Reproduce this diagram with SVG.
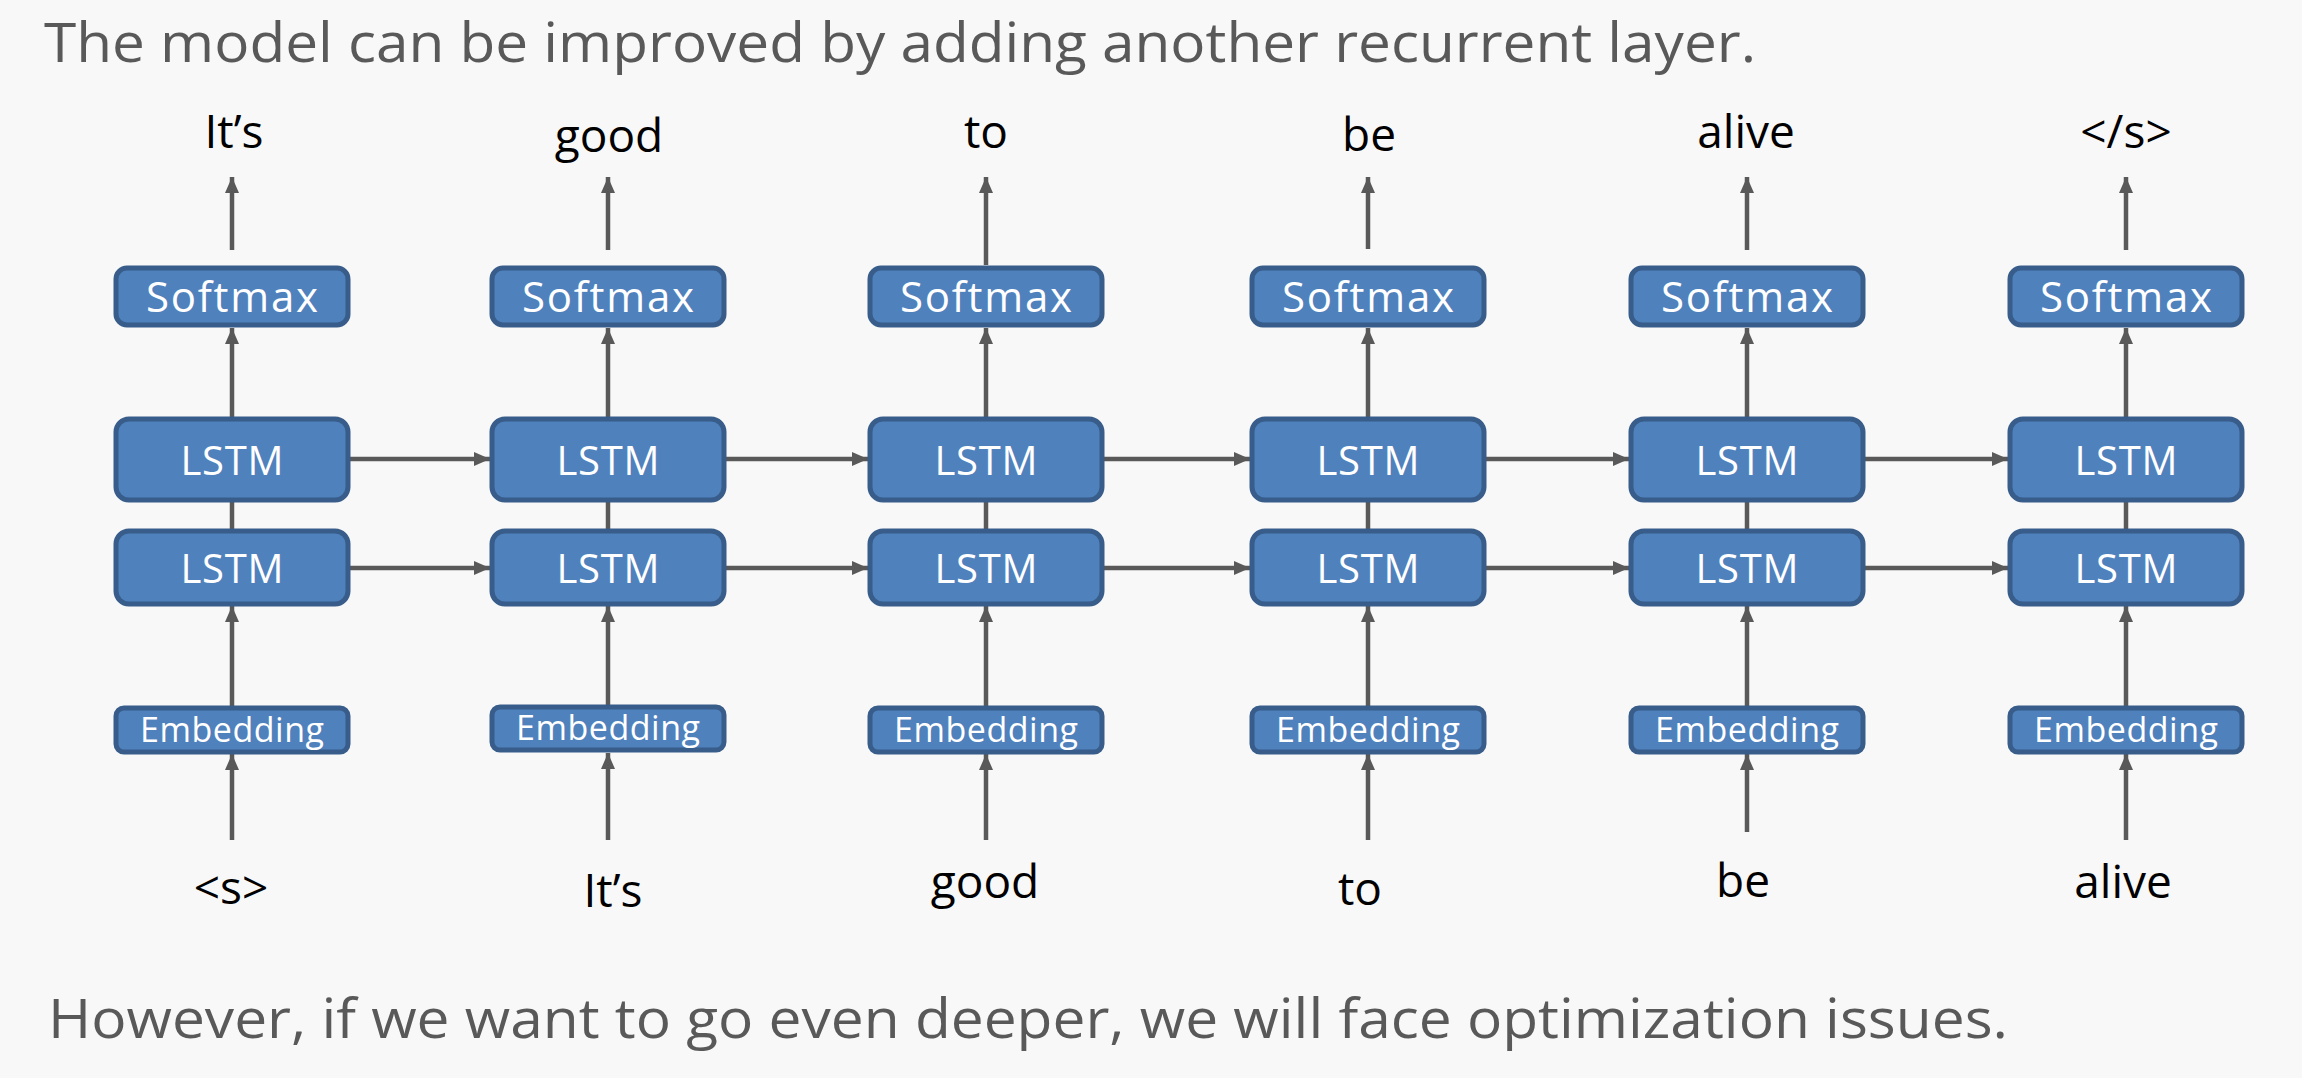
<svg xmlns="http://www.w3.org/2000/svg" width="2302" height="1078" viewBox="0 0 2302 1078">
<defs>
<style>
.bg{fill:#F8F8F8}
.box{fill:#4F81BD;stroke:#385D8A;stroke-width:5}
.bt{font-family:"Open Sans","Noto Sans",sans-serif;fill:#FFFFFF;text-anchor:middle}
.big{font-size:40px}
.sm{font-size:42px}
.emb{font-size:34px}
.lbl{font-family:"Open Sans","Noto Sans",sans-serif;font-size:46px;fill:#000000;text-anchor:middle}
.cap{font-family:"Open Sans","Noto Sans",sans-serif;font-size:55px;fill:#595959}
.c{stroke:#595959;stroke-width:4.5;fill:none}
.a{marker-end:url(#ah)}
</style>
<marker id="ah" markerUnits="userSpaceOnUse" markerWidth="16" markerHeight="16" viewBox="0 0 16 16" refX="16" refY="8" orient="auto">
<path d="M0,1 L16,8 L0,15 Z" fill="#595959"/>
</marker>
</defs>
<rect class="bg" x="0" y="0" width="2302" height="1078"/>
<text class="cap" x="44" y="62" textLength="1712" lengthAdjust="spacingAndGlyphs">The model can be improved by adding another recurrent layer.</text>
<text class="cap" x="48" y="1038" textLength="1960" lengthAdjust="spacingAndGlyphs">However, if we want to go even deeper, we will face optimization issues.</text>

<g id="connectors">
<line class="c a" x1="232" y1="250" x2="232" y2="177"/>
<line class="c a" x1="232" y1="417" x2="232" y2="328"/>
<line class="c" x1="232" y1="502" x2="232" y2="529"/>
<line class="c a" x1="232" y1="706" x2="232" y2="606"/>
<line class="c a" x1="232" y1="840" x2="232" y2="754"/>
<line class="c a" x1="608" y1="250" x2="608" y2="177"/>
<line class="c a" x1="608" y1="417" x2="608" y2="328"/>
<line class="c" x1="608" y1="502" x2="608" y2="529"/>
<line class="c a" x1="608" y1="706" x2="608" y2="606"/>
<line class="c a" x1="608" y1="840" x2="608" y2="753"/>
<line class="c a" x1="986" y1="265" x2="986" y2="177"/>
<line class="c a" x1="986" y1="417" x2="986" y2="328"/>
<line class="c" x1="986" y1="502" x2="986" y2="529"/>
<line class="c a" x1="986" y1="706" x2="986" y2="606"/>
<line class="c a" x1="986" y1="840" x2="986" y2="754"/>
<line class="c a" x1="1368" y1="249" x2="1368" y2="177"/>
<line class="c a" x1="1368" y1="417" x2="1368" y2="328"/>
<line class="c" x1="1368" y1="502" x2="1368" y2="529"/>
<line class="c a" x1="1368" y1="706" x2="1368" y2="606"/>
<line class="c a" x1="1368" y1="840" x2="1368" y2="754"/>
<line class="c a" x1="1747" y1="250" x2="1747" y2="177"/>
<line class="c a" x1="1747" y1="417" x2="1747" y2="328"/>
<line class="c" x1="1747" y1="502" x2="1747" y2="529"/>
<line class="c a" x1="1747" y1="706" x2="1747" y2="606"/>
<line class="c a" x1="1747" y1="832" x2="1747" y2="754"/>
<line class="c a" x1="2126" y1="250" x2="2126" y2="177"/>
<line class="c a" x1="2126" y1="417" x2="2126" y2="328"/>
<line class="c" x1="2126" y1="502" x2="2126" y2="529"/>
<line class="c a" x1="2126" y1="706" x2="2126" y2="606"/>
<line class="c a" x1="2126" y1="840" x2="2126" y2="754"/>
<line class="c a" x1="350" y1="459" x2="490" y2="459"/>
<line class="c a" x1="726" y1="459" x2="868" y2="459"/>
<line class="c a" x1="1104" y1="459" x2="1250" y2="459"/>
<line class="c a" x1="1486" y1="459" x2="1629" y2="459"/>
<line class="c a" x1="1865" y1="459" x2="2008" y2="459"/>
<line class="c a" x1="350" y1="568" x2="490" y2="568"/>
<line class="c a" x1="726" y1="568" x2="868" y2="568"/>
<line class="c a" x1="1104" y1="568" x2="1250" y2="568"/>
<line class="c a" x1="1486" y1="568" x2="1629" y2="568"/>
<line class="c a" x1="1865" y1="568" x2="2008" y2="568"/>
</g>

<g id="col1">
<g id="softmax1"><rect class="box" x="116" y="268" width="232" height="57" rx="11"/><text class="bt sm" x="232" y="312" textLength="172" lengthAdjust="spacing">Softmax</text></g>
<g id="lstm2_1"><rect class="box" x="116" y="419" width="232" height="81" rx="13"/><text class="bt big" x="232" y="475" textLength="103" lengthAdjust="spacing">LSTM</text></g>
<g id="lstm1_1"><rect class="box" x="116" y="531" width="232" height="73" rx="13"/><text class="bt big" x="232" y="583" textLength="103" lengthAdjust="spacing">LSTM</text></g>
<g id="emb1"><rect class="box" x="116" y="708" width="232" height="44" rx="8"/><text class="bt emb" x="232" y="742" textLength="184" lengthAdjust="spacing">Embedding</text></g>
</g>
<g id="col2">
<g id="softmax2"><rect class="box" x="492" y="268" width="232" height="57" rx="11"/><text class="bt sm" x="608" y="312" textLength="172" lengthAdjust="spacing">Softmax</text></g>
<g id="lstm2_2"><rect class="box" x="492" y="419" width="232" height="81" rx="13"/><text class="bt big" x="608" y="475" textLength="103" lengthAdjust="spacing">LSTM</text></g>
<g id="lstm1_2"><rect class="box" x="492" y="531" width="232" height="73" rx="13"/><text class="bt big" x="608" y="583" textLength="103" lengthAdjust="spacing">LSTM</text></g>
<g id="emb2"><rect class="box" x="492" y="707" width="232" height="43" rx="8"/><text class="bt emb" x="608" y="740" textLength="184" lengthAdjust="spacing">Embedding</text></g>
</g>
<g id="col3">
<g id="softmax3"><rect class="box" x="870" y="268" width="232" height="57" rx="11"/><text class="bt sm" x="986" y="312" textLength="172" lengthAdjust="spacing">Softmax</text></g>
<g id="lstm2_3"><rect class="box" x="870" y="419" width="232" height="81" rx="13"/><text class="bt big" x="986" y="475" textLength="103" lengthAdjust="spacing">LSTM</text></g>
<g id="lstm1_3"><rect class="box" x="870" y="531" width="232" height="73" rx="13"/><text class="bt big" x="986" y="583" textLength="103" lengthAdjust="spacing">LSTM</text></g>
<g id="emb3"><rect class="box" x="870" y="708" width="232" height="44" rx="8"/><text class="bt emb" x="986" y="742" textLength="184" lengthAdjust="spacing">Embedding</text></g>
</g>
<g id="col4">
<g id="softmax4"><rect class="box" x="1252" y="268" width="232" height="57" rx="11"/><text class="bt sm" x="1368" y="312" textLength="172" lengthAdjust="spacing">Softmax</text></g>
<g id="lstm2_4"><rect class="box" x="1252" y="419" width="232" height="81" rx="13"/><text class="bt big" x="1368" y="475" textLength="103" lengthAdjust="spacing">LSTM</text></g>
<g id="lstm1_4"><rect class="box" x="1252" y="531" width="232" height="73" rx="13"/><text class="bt big" x="1368" y="583" textLength="103" lengthAdjust="spacing">LSTM</text></g>
<g id="emb4"><rect class="box" x="1252" y="708" width="232" height="44" rx="8"/><text class="bt emb" x="1368" y="742" textLength="184" lengthAdjust="spacing">Embedding</text></g>
</g>
<g id="col5">
<g id="softmax5"><rect class="box" x="1631" y="268" width="232" height="57" rx="11"/><text class="bt sm" x="1747" y="312" textLength="172" lengthAdjust="spacing">Softmax</text></g>
<g id="lstm2_5"><rect class="box" x="1631" y="419" width="232" height="81" rx="13"/><text class="bt big" x="1747" y="475" textLength="103" lengthAdjust="spacing">LSTM</text></g>
<g id="lstm1_5"><rect class="box" x="1631" y="531" width="232" height="73" rx="13"/><text class="bt big" x="1747" y="583" textLength="103" lengthAdjust="spacing">LSTM</text></g>
<g id="emb5"><rect class="box" x="1631" y="708" width="232" height="44" rx="8"/><text class="bt emb" x="1747" y="742" textLength="184" lengthAdjust="spacing">Embedding</text></g>
</g>
<g id="col6">
<g id="softmax6"><rect class="box" x="2010" y="268" width="232" height="57" rx="11"/><text class="bt sm" x="2126" y="312" textLength="172" lengthAdjust="spacing">Softmax</text></g>
<g id="lstm2_6"><rect class="box" x="2010" y="419" width="232" height="81" rx="13"/><text class="bt big" x="2126" y="475" textLength="103" lengthAdjust="spacing">LSTM</text></g>
<g id="lstm1_6"><rect class="box" x="2010" y="531" width="232" height="73" rx="13"/><text class="bt big" x="2126" y="583" textLength="103" lengthAdjust="spacing">LSTM</text></g>
<g id="emb6"><rect class="box" x="2010" y="708" width="232" height="44" rx="8"/><text class="bt emb" x="2126" y="742" textLength="184" lengthAdjust="spacing">Embedding</text></g>
</g>

<g id="outputs">
<text class="lbl" x="234" y="148">It’s</text>
<text class="lbl" x="609" y="152">good</text>
<text class="lbl" x="986" y="148">to</text>
<text class="lbl" x="1369" y="151">be</text>
<text class="lbl" x="1746" y="148">alive</text>
<text class="lbl" x="2126" y="148">&lt;/s&gt;</text>
</g>
<g id="inputs">
<text class="lbl" x="231" y="904">&lt;s&gt;</text>
<text class="lbl" x="613" y="907">It’s</text>
<text class="lbl" x="985" y="898">good</text>
<text class="lbl" x="1360" y="905">to</text>
<text class="lbl" x="1743" y="897">be</text>
<text class="lbl" x="2123" y="898">alive</text>
</g>
</svg>
